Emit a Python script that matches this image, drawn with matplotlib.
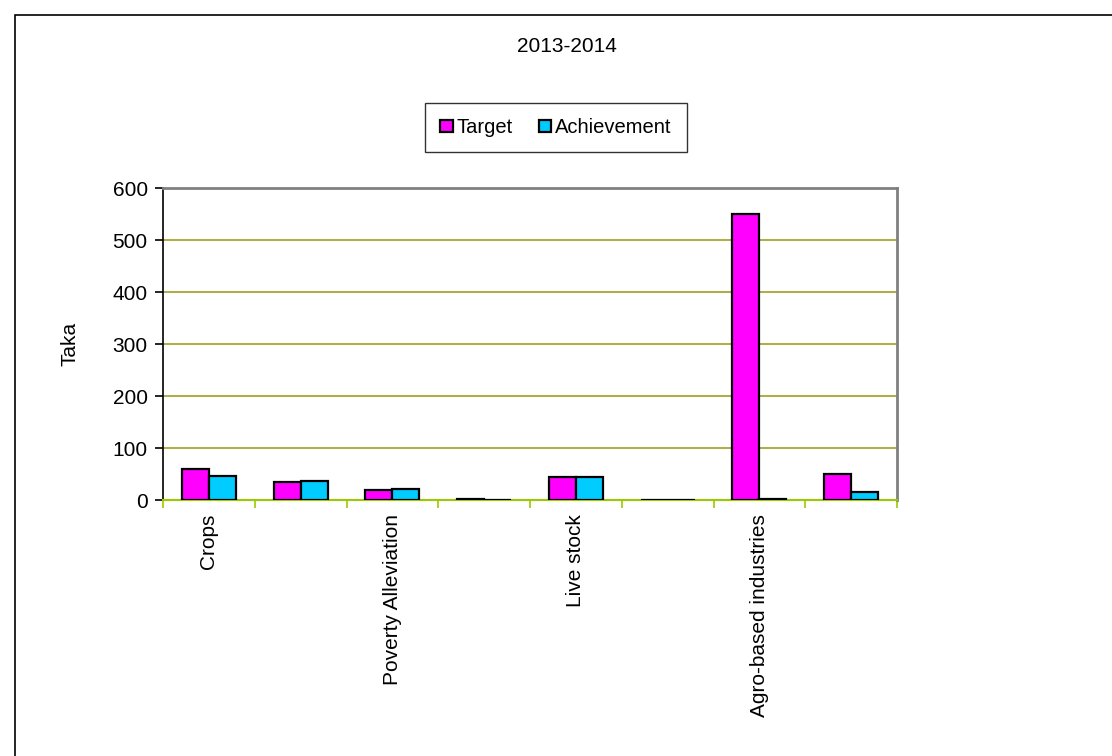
"""Target vs achievement bar chart, 2013-2014."""

import matplotlib

matplotlib.use("Agg")
import matplotlib.pyplot as plt
import numpy as np
from matplotlib.patches import Rectangle

plt.rcParams["font.family"] = ["Liberation Sans", "DejaVu Sans"]

# Excel hides every other label when space runs out; the hidden ones stay blank
CATEGORIES = ["Crops", "", "Poverty Alleviation", "", "Live stock", "",
              "Agro-based industries", ""]
TARGET = [59, 35, 19, 2.5, 44, 0, 550, 50]
ACHIEVEMENT = [47, 37, 22, 0.5, 44, 0, 2.5, 15]
YTICKS = [0, 100, 200, 300, 400, 500, 600]

W, H = 1112, 756
FS = 15


def main() -> None:
    fig = plt.figure(figsize=(W / 100, H / 100), dpi=100)
    ax = fig.add_axes([163 / W, 1 - 500 / H, (897 - 163) / W, (500 - 188) / H])

    x = np.arange(len(CATEGORIES))
    bw = 0.295
    b1 = ax.bar(x - bw / 2, TARGET, bw, color="#FF00FF", edgecolor="black",
                linewidth=1.6, label="Target", zorder=3)
    b2 = ax.bar(x + bw / 2, ACHIEVEMENT, bw, color="#00CCFF", edgecolor="black",
                linewidth=1.6, label="Achievement", zorder=3)

    ax.set_xlim(-0.5, len(CATEGORIES) - 0.5)
    ax.set_ylim(0, 600)
    ax.set_yticks(YTICKS)
    ax.tick_params(axis="y", labelsize=FS, direction="out", length=6,
                   width=1.2, pad=5)
    ax.yaxis.grid(True, color="#A0A020", linewidth=1.2, zorder=0)

    # category boundaries as tick marks, labels at centres
    ax.set_xticks(np.arange(len(CATEGORIES) + 1) - 0.5)
    ax.set_xticklabels([])
    ax.tick_params(axis="x", which="major", direction="out", length=6,
                   color="#99CC00", width=1.2)
    ax.set_xticks(x, minor=True)
    ax.set_xticklabels(CATEGORIES, minor=True, rotation=90, fontsize=FS,
                       va="top", ha="center")
    ax.tick_params(axis="x", which="minor", length=0, pad=10)

    for side in ("top", "right"):
        ax.spines[side].set_color("#808080")
        ax.spines[side].set_linewidth(2)
    ax.spines["left"].set_color("black")
    ax.spines["left"].set_linewidth(1.2)
    ax.spines["bottom"].set_color("#99CC00")
    ax.spines["bottom"].set_linewidth(1.5)

    ax.set_ylabel("Taka", fontsize=FS, labelpad=24)

    fig.text(567 / W, 1 - 47 / H, "2013-2014", ha="center", va="center",
             fontsize=FS)

    leg = fig.legend(handles=[b1, b2], loc="center",
                     bbox_to_anchor=(556 / W, 1 - 127.5 / H), ncol=2,
                     fontsize=14.5, frameon=True, fancybox=False,
                     handlelength=0.6, handleheight=0.6, handletextpad=0.2,
                     columnspacing=1.3, borderpad=0.75, borderaxespad=0)
    leg.get_frame().set_edgecolor("black")
    leg.get_frame().set_linewidth(1)

    # outer chart border, running off the right and bottom edges
    fig.patches.append(Rectangle((15 / W, -0.5), 2, 1.5 - 15 / H, fill=False,
                                 edgecolor="black", linewidth=1.2,
                                 transform=fig.transFigure))

    fig.savefig("out.png", dpi=100)
    plt.close(fig)


if __name__ == "__main__":
    main()
